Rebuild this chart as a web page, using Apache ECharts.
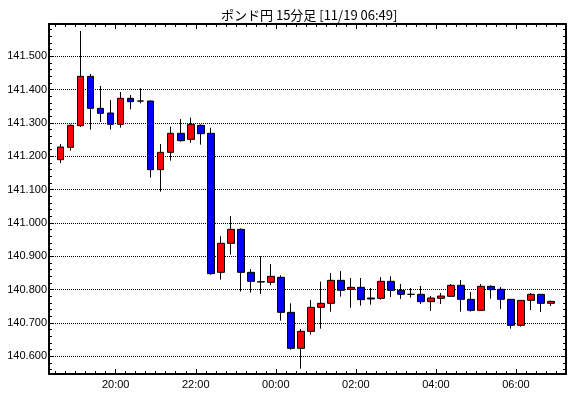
<!DOCTYPE html>
<html>
<head>
<meta charset="utf-8">
<script src="https://cdn.jsdelivr.net/npm/echarts@6/dist/echarts.min.js"></script>
<style>
  html, body { margin: 0; padding: 0; background: #fff; }
  #chart { width: 570px; height: 398px; }
</style>
</head>
<body>
<div id="chart"></div>
<script>
// 15 minute bars, start time of each bar
const times = [
  '18:30', '18:45', '19:00', '19:15', '19:30', '19:45', '20:00', '20:15', '20:30', '20:45',
  '21:00', '21:15', '21:30', '21:45', '22:00', '22:15', '22:30', '22:45', '23:00', '23:15',
  '23:30', '23:45', '00:00', '00:15', '00:30', '00:45', '01:00', '01:15', '01:30', '01:45',
  '02:00', '02:15', '02:30', '02:45', '03:00', '03:15', '03:30', '03:45', '04:00', '04:15',
  '04:30', '04:45', '05:00', '05:15', '05:30', '05:45', '06:00', '06:15', '06:30', '06:45'
];
const opens = [
  141.190, 141.227, 141.292, 141.440, 141.344, 141.330, 141.296, 141.374, 141.366, 141.366,
  141.160, 141.212, 141.269, 141.251, 141.293, 141.269, 140.852, 140.939, 140.981, 140.852,
  140.824, 140.822, 140.837, 140.732, 140.624, 140.675, 140.747, 140.759, 140.828, 140.801,
  140.807, 140.775, 140.774, 140.825, 140.798, 140.786, 140.786, 140.764, 140.774, 140.780,
  140.813, 140.771, 140.738, 140.810, 140.801, 140.771, 140.693, 140.768, 140.786, 140.759
];
const closes = [
  141.228, 141.293, 141.440, 141.344, 141.329, 141.296, 141.374, 141.364, 141.366, 141.160,
  141.212, 141.269, 141.247, 141.296, 141.268, 140.848, 140.939, 140.981, 140.852, 140.825,
  140.823, 140.840, 140.732, 140.624, 140.675, 140.747, 140.759, 140.828, 140.798, 140.807,
  140.770, 140.772, 140.825, 140.798, 140.786, 140.786, 140.764, 140.775, 140.781, 140.813,
  140.771, 140.738, 140.810, 140.800, 140.771, 140.693, 140.768, 140.786, 140.759, 140.765
];
const highs = [
  141.237, 141.296, 141.576, 141.447, 141.411, 141.369, 141.393, 141.384, 141.404, 141.367,
  141.237, 141.289, 141.312, 141.316, 141.296, 141.286, 140.960, 141.021, 140.984, 140.862,
  140.900, 140.877, 140.843, 140.759, 140.682, 140.769, 140.824, 140.850, 140.856, 140.835,
  140.835, 140.805, 140.838, 140.840, 140.817, 140.805, 140.811, 140.781, 140.790, 140.817,
  140.829, 140.793, 140.817, 140.813, 140.808, 140.772, 140.769, 140.790, 140.787, 140.767
];
const lows = [
  141.180, 141.217, 141.288, 141.280, 141.303, 141.280, 141.286, 141.341, 141.359, 141.136,
  141.094, 141.187, 141.244, 141.241, 141.235, 140.845, 140.830, 140.905, 140.794, 140.791,
  140.787, 140.813, 140.707, 140.620, 140.563, 140.665, 140.683, 140.734, 140.779, 140.746,
  140.752, 140.755, 140.770, 140.778, 140.772, 140.776, 140.757, 140.736, 140.757, 140.779,
  140.734, 140.734, 140.737, 140.773, 140.742, 140.683, 140.689, 140.739, 140.733, 140.751
];
const xLabels = ['20:00', '22:00', '00:00', '02:00', '04:00', '06:00'];
const yLabels = ['140.600', '140.700', '140.800', '140.900', '141.000', '141.100', '141.200', '141.300', '141.400', '141.500'];

// minutes on a running clock, hours before noon belong to the next day
const toMin = (t) => {
  const [h, m] = t.split(':').map(Number);
  return (h < 12 ? h + 24 : h) * 60 + m;
};

const xMin = toMin('18:20');
const xMax = toMin('07:15');
const yMin = 140.547;
const yMax = 141.597;

const xLabelValues = xLabels.map(toMin);
const xMinorTicks = [];
for (let m = toMin('18:30'); m <= toMin('07:00'); m += 15) xMinorTicks.push(m);
const yLabelValues = yLabels.map(Number);
const yMinorTicks = [];
for (let k = 0; k <= 51; k++) yMinorTicks.push(+(140.56 + k * 0.02).toFixed(3));

const font = { fontFamily: 'Liberation Sans', fontSize: 11, color: '#000' };
const frameLine = { show: true, lineStyle: { color: '#000', width: 2 } };

const xAxisOf = (position, ticks, len, main) => ({
  type: 'value',
  position,
  min: xMin,
  max: xMax,
  axisLine: main ? frameLine : { show: false },
  axisTick: { show: true, inside: true, length: len, customValues: ticks, lineStyle: { color: '#000', width: 1 } },
  axisLabel: main && position === 'bottom'
    ? { ...font, margin: 5, customValues: xLabelValues, formatter: (v) => xLabels[xLabelValues.indexOf(v)] }
    : { show: false },
  splitLine: { show: false },
});

const yAxisOf = (position, ticks, len, main) => ({
  type: 'value',
  position,
  min: yMin,
  max: yMax,
  axisLine: main ? frameLine : { show: false },
  axisTick: { show: true, inside: true, length: len, customValues: ticks, lineStyle: { color: '#000', width: 1 } },
  axisLabel: main && position === 'left'
    ? { ...font, margin: 2, customValues: yLabelValues, formatter: (v) => v.toFixed(3) }
    : { show: false },
  splitLine: main && position === 'left'
    ? { show: true, lineStyle: { color: '#000', width: 1, type: [1, 1] } }
    : { show: false },
});

const chart = echarts.init(document.getElementById('chart'), null, { renderer: 'canvas' });

chart.setOption({
  animation: false,
  backgroundColor: '#fff',
  title: {
    text: 'ポンド円 15分足 [11/19 06:49]',
    left: 216,
    top: 4,
    textStyle: { fontFamily: 'Noto Sans CJK JP', fontSize: 13, fontWeight: 'normal', color: '#000' },
  },
  grid: { left: 49, right: 4, top: 24, bottom: 24, containLabel: false },
  xAxis: [
    xAxisOf('bottom', xLabelValues, 5, true),
    xAxisOf('bottom', xMinorTicks, 3, false),
    xAxisOf('top', xLabelValues, 5, true),
    xAxisOf('top', xMinorTicks, 3, false),
  ],
  yAxis: [
    yAxisOf('left', yLabelValues, 4, true),
    yAxisOf('left', yMinorTicks, 3, false),
    yAxisOf('right', yLabelValues, 4, true),
    yAxisOf('right', yMinorTicks, 3, false),
  ],
  series: [
    {
      type: 'candlestick',
      xAxisIndex: 0,
      yAxisIndex: 0,
      barWidth: 7,
      encode: { x: 0, y: [1, 2, 3, 4] },
      // bar drawn in the middle of its 15 minute slot
      data: times.map((t, i) => [toMin(t) + 7.5, opens[i], closes[i], lows[i], highs[i]]),
      itemStyle: {
        color: '#ff0000',
        color0: '#0000ff',
        borderColor: '#000',
        borderColor0: '#000',
        borderColorDoji: '#000',
        borderWidth: 1,
      },
    },
  ],
});
</script>
</body>
</html>
